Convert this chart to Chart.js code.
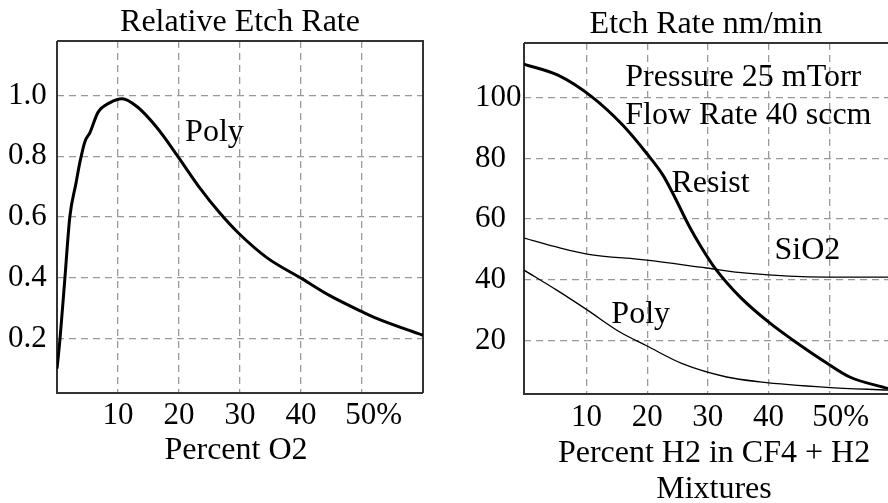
<!DOCTYPE html>
<html>
<head>
<meta charset="utf-8">
<script src="https://cdn.jsdelivr.net/npm/chart.js@4.4.0/dist/chart.umd.min.js"></script>
<style>
html, body { margin: 0; padding: 0; background: #fff; overflow: hidden; }
#wrap { position: relative; width: 888px; height: 503px; }
.box { position: absolute; top: 0; height: 503px; width: 444px; }
</style>
</head>
<body>
<div id="wrap">
  <div class="box" style="left:0"><canvas id="leftChart"></canvas></div>
  <div class="box" style="left:444px"><canvas id="rightChart"></canvas></div>
</div>
<script>
// ---- left panel: relative etch rate of poly vs percent O2
var o2Percent = [0, 0.5, 1.3, 2.1, 3.1, 3.8, 4.6, 5.4, 6.7, 8.7, 10.7, 13.1, 16.4, 19.8, 23.4, 26.7, 29.7, 34.4, 40.2, 44.8, 50, 52.5, 60];
var polyRelRate = [0.10, 0.2, 0.4, 0.6, 0.71, 0.785, 0.85, 0.878, 0.944, 0.977, 0.99, 0.964, 0.894, 0.80, 0.696, 0.613, 0.548, 0.466, 0.396, 0.34, 0.288, 0.265, 0.21];

// ---- right panel: etch rate nm/min vs percent H2 in CF4 + H2
var resistH2 = [-0.3, 5.3, 11.0, 16.0, 19.9, 22.6, 24.2, 27.0, 29.0, 31.2, 35.3, 40.2, 44.0, 49.6, 53.4, 59.7];
var resistRate = [111, 107.4, 100.1, 90.9, 81.7, 74.5, 68.6, 57.4, 50.5, 43.8, 34.4, 25.8, 20.2, 12.6, 8.0, 4.2];
var sio2H2 = [-0.3, 5.6, 10.1, 19.9, 29.8, 36.4, 49.6, 59.7];
var sio2Rate = [53.75, 50.5, 48.5, 46.5, 43.9, 42.2, 40.9, 40.9];
var polyH2 = [-0.3, 5.1, 10.1, 15.5, 19.9, 25.9, 33.1, 38.6, 49.6, 59.7];
var polyRate = [43.2, 36.6, 30.1, 22.8, 18.3, 12.3, 8.0, 6.4, 4.6, 3.7];

// ticks
var xTicks = [10, 20, 30, 40, 50];
var xTickLabels = ['10', '20', '30', '40', '50%'];
var leftYTicks = [0.2, 0.4, 0.6, 0.8, 1.0];
var leftYLabels = ['0.2', '0.4', '0.6', '0.8', '1.0'];
var rightYTicks = [20, 40, 60, 80, 100];
var rightYLabels = ['20', '40', '60', '80', '100'];

// text notes placed at data coordinates
var leftNotes = [{ text: 'Poly', x: 21.0, y: 0.878 }];
var rightNotes = [
    { text: 'Pressure 25 mTorr', x: 16.4, y: 106.7 },
    { text: 'Flow Rate 40 sccm', x: 16.4, y: 94.0 },
    { text: 'Resist', x: 24.0, y: 71.8 },
    { text: 'SiO2', x: 41.0, y: 49.5 },
    { text: 'Poly', x: 14.1, y: 28.4 }
];

var SERIF = "'Liberation Serif', 'Times New Roman', serif";
Chart.defaults.font.family = SERIF;
Chart.defaults.color = '#000';

function pts(xs, ys) {
    return xs.map(function(x, i) { return { x: x, y: ys[i] }; });
}

var framePlugin = {
    id: 'frame',
    beforeDatasetsDraw: function(chart, args, opts) {
        var a = chart.chartArea, ctx = chart.ctx;
        ctx.save();
        ctx.strokeStyle = '#333';
        ctx.lineWidth = 2;
        ctx.beginPath();
        ctx.moveTo(a.left, a.top);
        ctx.lineTo(a.left, a.bottom);
        ctx.lineTo(a.right, a.bottom);
        ctx.moveTo(a.left, a.top);
        ctx.lineTo(a.right, a.top);
        if (opts.right) ctx.lineTo(a.right, a.bottom);
        ctx.stroke();
        ctx.restore();
    }
};

var notesPlugin = {
    id: 'notes',
    afterDatasetsDraw: function(chart, args, opts) {
        var ctx = chart.ctx, sx = chart.scales.x, sy = chart.scales.y;
        ctx.save();
        ctx.font = '32px ' + SERIF;
        ctx.fillStyle = '#000';
        ctx.textAlign = 'left';
        ctx.textBaseline = 'middle';
        (opts.items || []).forEach(function(n) {
            ctx.fillText(n.text, sx.getPixelForValue(n.x), sy.getPixelForValue(n.y));
        });
        ctx.restore();
    }
};

function lineSet(data, width) {
    return {
        data: data,
        showLine: true,
        borderColor: '#000',
        borderWidth: width,
        pointRadius: 0,
        cubicInterpolationMode: 'monotone',
        fill: false
    };
}

function makeOptions(cfg) {
    return {
        responsive: true,
        maintainAspectRatio: false,
        animation: false,
        layout: { padding: cfg.padding },
        plugins: {
            legend: { display: false },
            tooltip: { enabled: false },
            frame: { right: cfg.frameRight },
            notes: { items: cfg.notes }
        },
        scales: {
            // top axis only carries the panel title, centred over the plot
            top: {
                type: 'linear',
                position: 'top',
                min: cfg.xMin,
                max: cfg.xMax,
                afterFit: function(scale) { scale.height = cfg.topHeight; },
                grid: { display: false },
                border: { display: false },
                ticks: { display: false },
                title: {
                    display: true,
                    text: cfg.title,
                    font: { size: 32, lineHeight: 1.2 },
                    color: '#000',
                    padding: { top: cfg.titleTop, bottom: 0 }
                }
            },
            x: {
                type: 'linear',
                position: 'bottom',
                min: cfg.xMin,
                max: cfg.xMax,
                afterBuildTicks: function(scale) {
                    scale.ticks = xTicks.map(function(v) { return { value: v }; });
                },
                afterFit: function(scale) { scale.height = cfg.xHeight; },
                grid: { color: '#999', lineWidth: 1.3, drawTicks: false },
                border: { display: false, dash: [7, 5] },
                ticks: {
                    font: { size: 31 },
                    color: '#000',
                    padding: cfg.xTickPad,
                    maxRotation: 0,
                    autoSkip: false,
                    callback: function(v, i) {
                        var s = xTickLabels[i];
                        return s.slice(-1) === '%' ? '   ' + s : s;
                    }
                },
                title: {
                    display: true,
                    text: cfg.xTitle,
                    font: { size: 32, lineHeight: cfg.xTitleLH },
                    color: '#000',
                    padding: { top: 0, bottom: cfg.xTitlePad }
                }
            },
            y: {
                type: 'linear',
                min: cfg.yMin,
                max: cfg.yMax,
                afterBuildTicks: function(scale) {
                    scale.ticks = cfg.yTicks.map(function(v) { return { value: v }; });
                },
                afterFit: function(scale) { scale.width = 49; },
                grid: { color: '#999', lineWidth: 1.3, drawTicks: false },
                border: { display: false, dash: [7, 5] },
                ticks: {
                    font: { size: 31 },
                    color: '#000',
                    crossAlign: 'far',
                    callback: function(v, i) { return cfg.yLabels[i]; }
                }
            }
        }
    };
}

new Chart(document.getElementById('leftChart').getContext('2d'), {
    type: 'scatter',
    data: { datasets: [lineSet(pts(o2Percent, polyRelRate), 3)] },
    options: makeOptions({
        padding: { left: 8, right: 21, top: 0, bottom: 0 },
        title: 'Relative Etch Rate',
        topHeight: 41, titleTop: 3.3,
        frameRight: true,
        notes: leftNotes,
        xMin: 0, xMax: 60,
        yMin: 0.02, yMax: 1.18,
        yTicks: leftYTicks, yLabels: leftYLabels,
        xHeight: 110, xTickPad: 4,
        xTitle: 'Percent O2 ', xTitleLH: 1.2, xTitlePad: 33.3
    }),
    plugins: [framePlugin, notesPlugin]
});

new Chart(document.getElementById('rightChart').getContext('2d'), {
    type: 'scatter',
    data: {
        datasets: [
            lineSet(pts(resistH2, resistRate), 3),
            lineSet(pts(sio2H2, sio2Rate), 1.3),
            lineSet(pts(polyH2, polyRate), 1.3)
        ]
    },
    options: makeOptions({
        padding: { left: 31, right: 0, top: 0, bottom: 0 },
        title: 'Etch Rate nm/min',
        topHeight: 43, titleTop: 5.3,
        frameRight: false,
        notes: rightNotes,
        xMin: -0.3, xMax: 59.7,
        yMin: 2.4, yMax: 118,
        yTicks: rightYTicks, yLabels: rightYLabels,
        xHeight: 109, xTickPad: 5,
        xTitle: ['  Percent H2 in CF4 + H2', '  Mixtures'], xTitleLH: 36 / 32, xTitlePad: -4.5
    }),
    plugins: [framePlugin, notesPlugin]
});
</script>
</body>
</html>
